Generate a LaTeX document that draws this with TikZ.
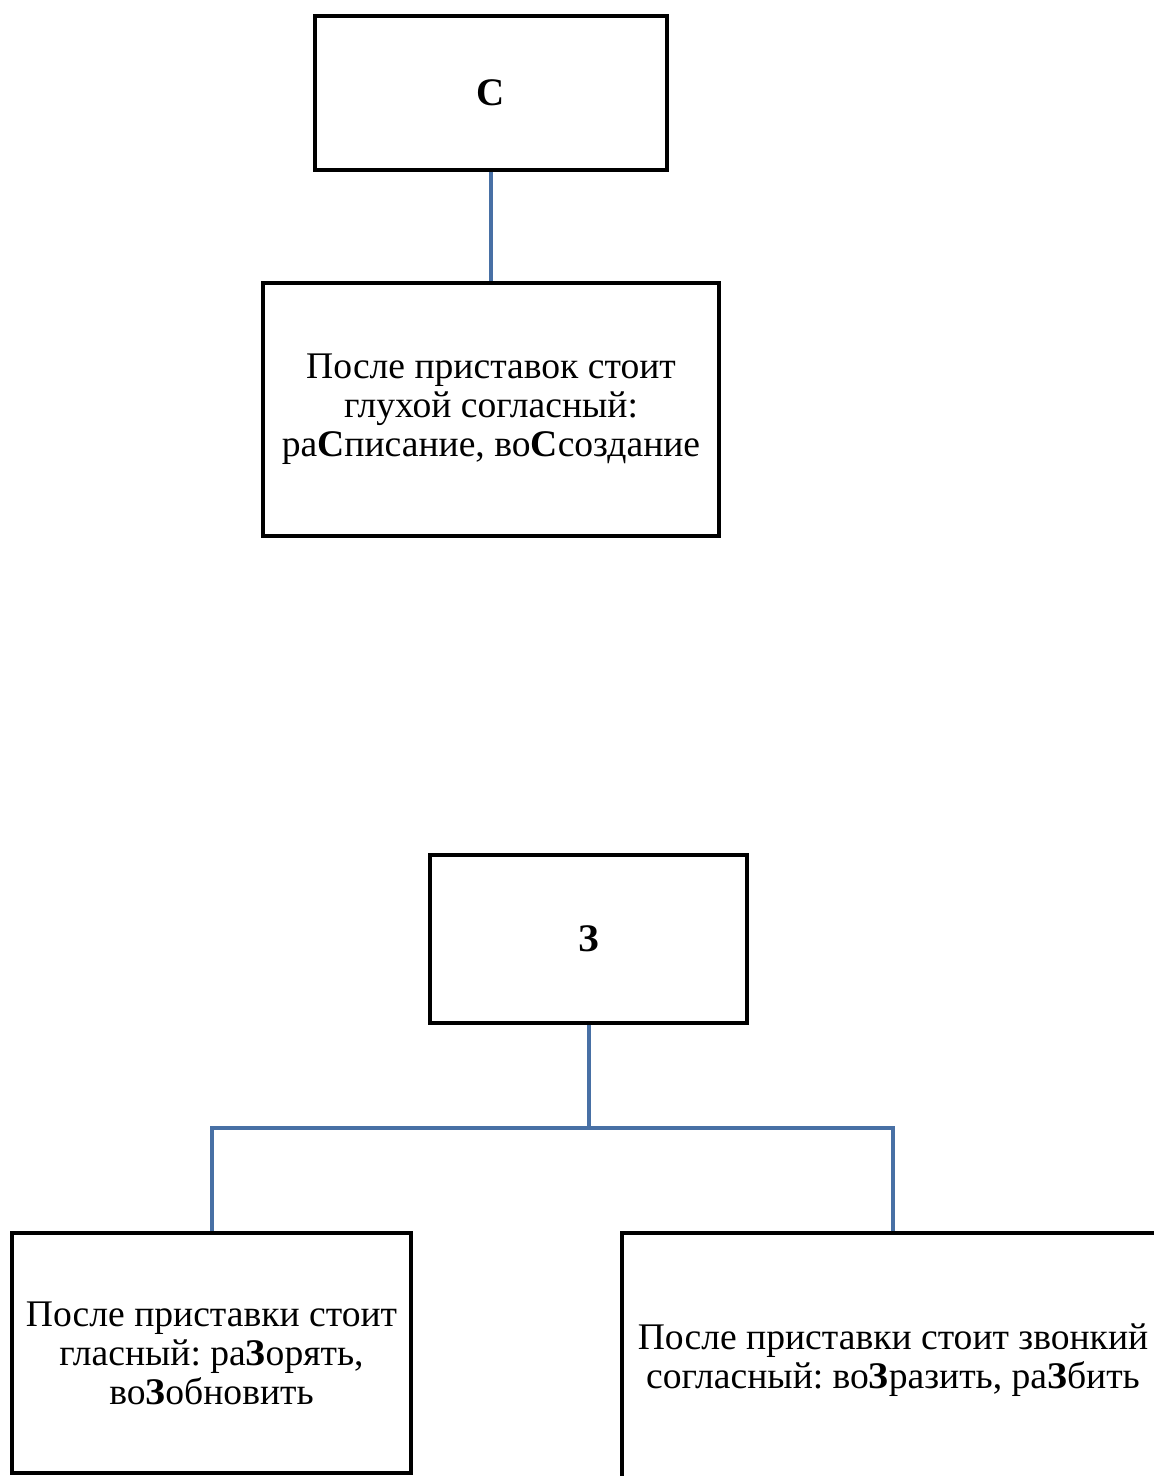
\documentclass[tikz,border=0pt]{standalone}
\usepackage{fontspec}
\setmainfont{Liberation Serif}
\usetikzlibrary{positioning}
\definecolor{linkblue}{RGB}{72,112,165}
\frenchspacing
\begin{document}
\begin{tikzpicture}[x=0.5pt,y=-0.5pt,
		box/.style={draw=black,line width=2pt,align=center,inner sep=0pt,
			font=\fontsize{18.8}{19.5}\selectfont},
		head/.style={box,font=\fontsize{19.5}{22}\selectfont\bfseries},
		link/.style={draw=linkblue,line width=2pt}]
			\useasboundingbox (0,0) rectangle (1154,1476);
			\clip (0,0) rectangle (1154,1476);
			\node[head,minimum width=176pt,minimum height=77pt] (s) at (491,93) {С};
			\node[box,minimum width=228pt,minimum height=126.5pt] (sdeaf) at (491,409.5)
				{После приставок стоит\\глухой согласный:\\ра\textbf{С}писание, во\textbf{С}создание};
			\draw[link] (s.south) -- (sdeaf.north);
			\node[head,minimum width=158.5pt,minimum height=84pt] (z) at (588.5,939) {З};
			\node[box,minimum width=199.5pt,minimum height=120pt] (zvowel) at (211.5,1353)
				{После приставки стоит\\гласный: ра\textbf{З}орять,\\во\textbf{З}обновить};
			\node[box,minimum width=271pt,minimum height=127pt] (zvoiced) at (893,1360)
				{После приставки стоит звонкий\\согласный: во\textbf{З}разить, ра\textbf{З}бить};
			\coordinate (fork) at (588.5,1128);
			\draw[link] (z.south) -- (fork);
			\draw[link] (zvowel.north) |- (fork) -| (zvoiced.north);
		\end{tikzpicture}
\end{document}
